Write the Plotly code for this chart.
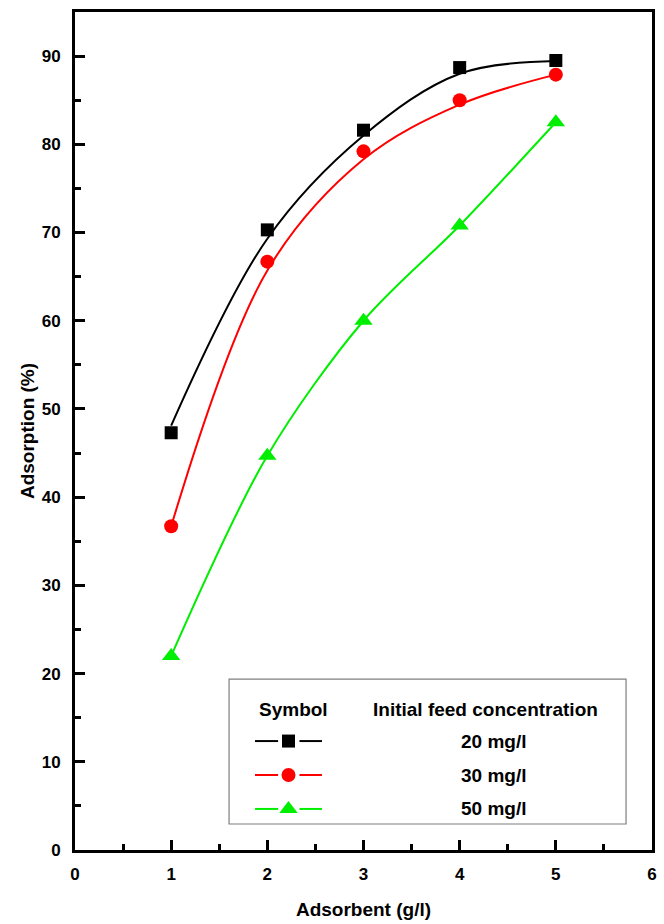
import plotly.graph_objects as go

# Adsorbent dose (g/l)
dose = [1, 2, 3, 4, 5]

# Measured adsorption (%) for each initial feed concentration
ads_20 = [47.3, 70.3, 81.6, 88.7, 89.5]
ads_30 = [36.7, 66.7, 79.2, 85.0, 87.9]
ads_50 = [22.0, 44.7, 60.0, 70.8, 82.5]

# Smoothed trend curves drawn through the measurements
trend_20 = [48.1, 69.3, 81.0, 88.0, 89.45]
trend_30 = [36.7, 65.7, 78.3, 84.5, 87.9]
trend_50 = [22.0, 44.7, 60.0, 70.8, 82.5]

conc_labels = ["20 mg/l", "30 mg/l", "50 mg/l"]
colors = ["#000000", "#ff0000", "#00ee00"]
symbols = ["square", "circle", "triangle-up"]
marker_sizes = [13, 14, 16]
smoothing = [1.0, 1.0, 0.9]

x_ticks = [0, 1, 2, 3, 4, 5, 6]
y_ticks = [0, 10, 20, 30, 40, 50, 60, 70, 80, 90]

FONT = "Liberation Sans, Arial, sans-serif"

fig = go.Figure()

series = [(ads_20, trend_20), (ads_30, trend_30), (ads_50, trend_50)]
for (meas, trend), col, sym, ms, sm, name in zip(series, colors, symbols, marker_sizes,
                                                 smoothing, conc_labels):
    fig.add_trace(go.Scatter(
        x=dose, y=trend, mode="lines",
        line=dict(color=col, width=2, shape="spline", smoothing=sm),
        showlegend=False, hoverinfo="skip",
    ))
    fig.add_trace(go.Scatter(
        x=dose, y=meas, mode="markers", name=name,
        marker=dict(color=col, symbol=sym, size=ms, line=dict(width=0)),
        showlegend=False,
    ))

# Key box drawn on an overlay axis spanning the plot area (0..1 both ways)
row_y = [0.130, 0.0895, 0.049]
for ry, col, sym, ms, name in zip(row_y, colors, symbols, marker_sizes, conc_labels):
    for seg in ([0.312, 0.352], [0.389, 0.428]):
        fig.add_trace(go.Scatter(
            x=seg, y=[ry, ry], mode="lines", xaxis="x2", yaxis="y2",
            line=dict(color=col, width=2), showlegend=False, hoverinfo="skip",
        ))
    fig.add_trace(go.Scatter(
        x=[0.370], y=[ry], mode="markers", xaxis="x2", yaxis="y2",
        marker=dict(color=col, symbol=sym, size=ms, line=dict(width=0)),
        showlegend=False, hoverinfo="skip",
    ))
    fig.add_annotation(
        x=0.7245, y=ry, xref="x2", yref="y2", text=name, showarrow=False,
        font=dict(family=FONT, size=19, color="black", weight="bold"),
        xanchor="center", yanchor="middle",
    )

fig.add_annotation(
    x=0.378, y=0.168, xref="x2", yref="y2", text="Symbol", showarrow=False,
    font=dict(family=FONT, size=19, color="black", weight="bold"),
    xanchor="center", yanchor="middle",
)
fig.add_annotation(
    x=0.711, y=0.168, xref="x2", yref="y2", text="Initial feed concentration",
    showarrow=False, font=dict(family=FONT, size=19, color="black", weight="bold"),
    xanchor="center", yanchor="middle",
)
fig.add_shape(
    type="rect", xref="x2", yref="y2", x0=0.267, x1=0.955, y0=0.031, y1=0.204,
    line=dict(color="#7f7f7f", width=1.2), fillcolor="rgba(0,0,0,0)", layer="below",
)

axis_common = dict(
    showline=True, linecolor="black", linewidth=3, mirror=True,
    ticks="inside", ticklen=10, tickwidth=2.5, tickcolor="black",
    showgrid=False, zeroline=False, automargin=False,
    tickfont=dict(family=FONT, size=17, color="black", weight="bold"),
)

fig.update_layout(
    width=664, height=924,
    margin=dict(l=75, r=12, t=12, b=74),
    paper_bgcolor="white", plot_bgcolor="white",
    xaxis=dict(
        range=[0, 6], tickvals=x_ticks, ticklabelstandoff=7,
        minor=dict(dtick=0.5, ticks="inside", ticklen=6, tickwidth=2.5, tickcolor="black"),
        title=dict(text="<b>Adsorbent (g/l)</b>", standoff=20,
                   font=dict(family=FONT, size=19, color="black")),
        **axis_common,
    ),
    yaxis=dict(
        range=[0, 95], tickvals=y_ticks, ticklabelstandoff=8,
        minor=dict(dtick=5, ticks="inside", ticklen=6, tickwidth=2.5, tickcolor="black"),
        title=dict(text="<b>Adsorption (%)</b>", standoff=3,
                   font=dict(family=FONT, size=19, color="black")),
        **axis_common,
    ),
    xaxis2=dict(range=[0, 1], overlaying="x", visible=False, fixedrange=True),
    yaxis2=dict(range=[0, 1], overlaying="y", visible=False, fixedrange=True),
)

fig.write_html("out.html")
